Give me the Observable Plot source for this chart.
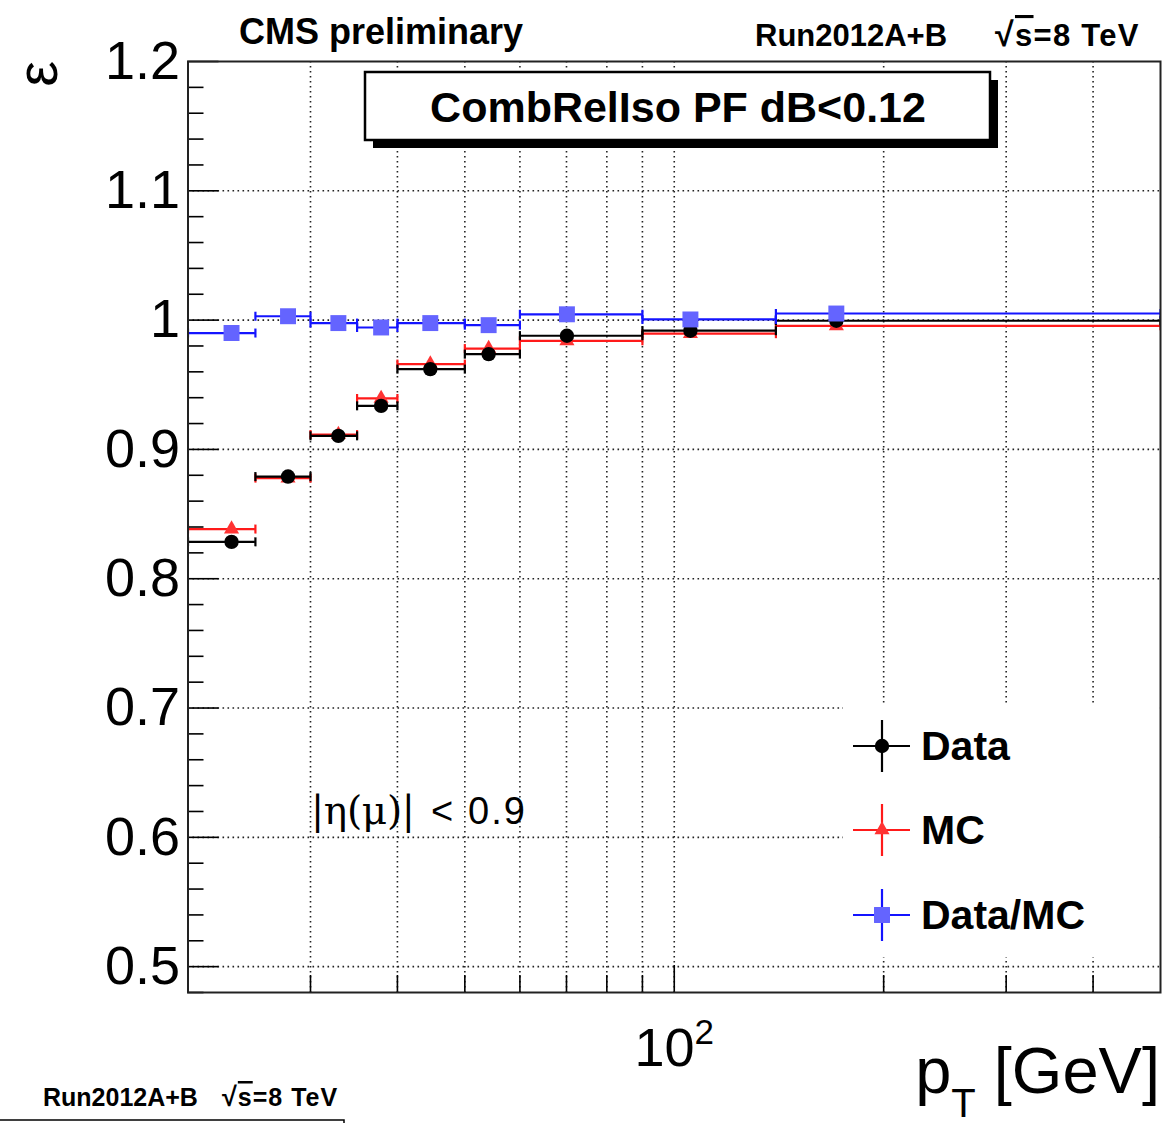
<!DOCTYPE html>
<html><head><meta charset="utf-8">
<script src="https://cdn.jsdelivr.net/npm/d3@7"></script>
<script src="https://cdn.jsdelivr.net/npm/@observablehq/plot@0.6"></script>
<style>
html,body{margin:0;padding:0;background:#fff}
svg{display:block}
</style>
</head><body><div id="chart"></div>
<script>
// ---- data ----
const binLow  = [20, 25, 30, 35, 40, 50, 60, 90, 140];
const binHigh = [25, 30, 35, 40, 50, 60, 90, 140, 500];
const ptMean  = [23.1, 27.85, 32.9, 37.9, 44.6, 54.1, 70.1, 105.5, 171];
const effData = [0.8285, 0.879, 0.9105, 0.9337, 0.9621, 0.9737, 0.9879, 0.9918, 0.9995];
const effMC   = [0.8384, 0.8778, 0.9115, 0.9394, 0.9660, 0.9780, 0.9840, 0.9895, 0.9956];
const ratio   = [0.9900, 1.0030, 0.9977, 0.9943, 0.9977, 0.9961, 1.0045, 1.0005, 1.0051];
const seriesNames = ["Data", "MC", "Data/MC"];

const xGrid  = [30, 40, 50, 60, 70, 80, 90, 100, 200, 300, 400];
const xMinor = [30, 40, 50, 60, 70, 80, 90, 200, 300, 400];
const xMajor = [100];
const yMajor = [0.5, 0.6, 0.7, 0.8, 0.9, 1.0, 1.1, 1.2];
const yGrid  = [0.5, 0.6, 0.7, 0.8, 0.9, 1.0, 1.1];
const yMinor = d3.range(24, 61).map(i => i / 50).filter(v => !yMajor.some(m => Math.abs(m - v) < 1e-9));

// ---- layout ----
const W = 1165, H = 1123;
const frameL = 187.5, frameR = 1160, frameT = 61, frameB = 992;
const FONT = "'Liberation Sans', Arial, Helvetica, sans-serif";

const styles = {
  "Data":    {line: "#000000", fill: "#000000", symbol: "circle",   r: 7.2},
  "MC":      {line: "#ff1a1a", fill: "#ff3333", symbol: "triangle", r: 5.6},
  "Data/MC": {line: "#1414ff", fill: "#6464ff", symbol: "square",   r: 9}
};
const values = {"Data": effData, "MC": effMC, "Data/MC": ratio};

function rowsFor(name) {
  return binLow.map((lo, i) => ({series: name, lo, hi: binHigh[i], x: ptMean[i], v: values[name][i]}));
}

const capSymbol = {draw(ctx) { ctx.moveTo(0, -4.5); ctx.lineTo(0, 4.5); }};

const drawOrder = ["MC", "Data", "Data/MC"];
const dataMarks = drawOrder.flatMap(name => {
  const rows = rowsFor(name), s = styles[name];
  return [
    Plot.ruleY(rows, {y: "v", x1: "lo", x2: "hi", stroke: s.line, strokeWidth: 2.2, clip: true}),
    Plot.dot(rows, {x: "lo", y: "v", symbol: capSymbol, stroke: s.line, strokeWidth: 2.2, fill: "none", clip: true}),
    Plot.dot(rows, {x: "hi", y: "v", symbol: capSymbol, stroke: s.line, strokeWidth: 2.2, fill: "none", clip: true}),
    Plot.dot(rows, {x: "x", y: "v", symbol: s.symbol, r: s.r, fill: s.fill, stroke: "none", clip: true})
  ];
});

const gridStyle = {stroke: "#222", strokeWidth: 1.6, strokeDasharray: "1.6,3.4"};

const chart = Plot.plot({
  width: W, height: H,
  marginLeft: frameL, marginRight: W - frameR, marginTop: frameT, marginBottom: H - frameB,
  x: {type: "log", domain: [20, 500], label: null, axis: null},
  y: {domain: [0.48, 1.2], label: null, axis: null},
  style: {fontFamily: FONT, background: "#fff", color: "#000", overflow: "visible"},
  marks: [
    Plot.ruleX(xGrid, {x: d => d, ...gridStyle}),
    Plot.ruleY(yGrid, {y: d => d, ...gridStyle}),
    ...dataMarks,
    Plot.axisY({ticks: yMinor, tickSize: -16, tickFormat: () => "", strokeWidth: 1.6, label: null}),
    Plot.axisY({ticks: yMajor, tickSize: -31, tickPadding: 39, strokeWidth: 1.6, label: null,
      tickFormat: d => (Math.abs(d - 1) < 1e-9 ? "1" : d.toFixed(1)), fontSize: 54}),
    Plot.axisX({ticks: xMinor, tickSize: -17, tickFormat: () => "", strokeWidth: 1.6, label: null}),
    Plot.axisX({ticks: xMajor, tickSize: -27, tickPadding: 62, strokeWidth: 1.6, label: null,
      tickFormat: () => "10\u00B2", fontSize: 54}),
    Plot.frame({stroke: "#222", strokeWidth: 2})
  ]
});
document.getElementById("chart").appendChild(chart);

// ---- annotations ----
const svg = d3.select(chart);
const ann = svg.append("g").attr("text-anchor", "start").style("font-family", FONT);

// legend background box hides the grid behind it (inserted right after the two grid rule groups)
const ruleGroups = chart.querySelectorAll("g[aria-label='rule']");
const bg = document.createElementNS("http://www.w3.org/2000/svg", "rect");
bg.setAttribute("x", 843); bg.setAttribute("y", 703);
bg.setAttribute("width", frameR - 1 - 843); bg.setAttribute("height", 254);
bg.setAttribute("fill", "#fff");
if (ruleGroups.length >= 2) {
  ruleGroups[1].parentNode.insertBefore(bg, ruleGroups[1].nextSibling);
}

// superscript exponent on the 10^2 tick label
svg.selectAll("text").filter(function() { return this.textContent === "10\u00B2"; }).each(function() {
  const t = d3.select(this);
  t.text(null);
  t.append("tspan").text("10");
  t.append("tspan").attr("dy", -22).style("font-size", "35px").text("2");
});

// legend entries
const legY = [746, 830, 915];
const symMap = {circle: d3.symbolCircle, triangle: d3.symbolTriangle, square: d3.symbolSquare};
seriesNames.forEach((name, i) => {
  const s = styles[name], y = legY[i];
  const g = ann.append("g");
  g.append("line").attr("x1", 853).attr("x2", 910).attr("y1", y).attr("y2", y).attr("stroke", s.line).attr("stroke-width", 2.2);
  g.append("line").attr("x1", 882).attr("x2", 882).attr("y1", y - 26).attr("y2", y + 26).attr("stroke", s.line).attr("stroke-width", 2.2);
  g.append("path").attr("transform", `translate(882,${y})`)
    .attr("d", d3.symbol(symMap[s.symbol], Math.PI * s.r * s.r)()).attr("fill", s.fill);
  g.append("text").attr("x", 921).attr("y", y + 14).style("font-size", "41px").style("font-weight", "bold").text(name);
});

// title box with shadow
ann.append("rect").attr("x", 373).attr("y", 80).attr("width", 625).attr("height", 68).attr("fill", "#000");
ann.append("rect").attr("x", 365).attr("y", 72).attr("width", 625).attr("height", 68)
  .attr("fill", "#fff").attr("stroke", "#000").attr("stroke-width", 2.5);
ann.append("text").attr("x", 678).attr("y", 122).attr("text-anchor", "middle")
  .style("font-size", "43px").style("font-weight", "bold").text("CombRelIso PF dB<0.12");

// header texts
ann.append("text").attr("x", 239).attr("y", 44).style("font-size", "36px").style("font-weight", "bold").text("CMS preliminary");
ann.append("text").attr("x", 755).attr("y", 46).style("font-size", "31px").style("font-weight", "bold").text("Run2012A+B");
const rs = ann.append("text").attr("x", 995).attr("y", 46).style("font-size", "31px").style("font-weight", "bold")
  .style("letter-spacing", "1.3px");
rs.append("tspan").style("font-size", "34px").text("\u221A");
rs.append("tspan").style("text-decoration", "overline").text("s");
rs.append("tspan").text("=8 TeV");

// y title (epsilon), rotated
ann.append("text").attr("transform", "translate(57,61) rotate(-90)").attr("text-anchor", "end")
  .style("font-size", "58px").text("\u03B5");

// x title
const pt = ann.append("text").attr("x", 1160).attr("y", 1093).attr("text-anchor", "end").style("font-size", "65px");
pt.append("tspan").text("p");
pt.append("tspan").attr("dy", 24).style("font-size", "40px").text("T");
pt.append("tspan").attr("dy", -24).text(" [GeV]");

// eta region label
ann.append("text").attr("x", 311).attr("y", 824).style("font-size", "39px")
  .style("font-family", "'DejaVu Serif', 'Liberation Serif', serif")
  .attr("textLength", 104).attr("lengthAdjust", "spacing").text("|\u03B7(\u03BC)|");
ann.append("text").attr("x", 431).attr("y", 824).style("font-size", "38px")
  .attr("textLength", 94).attr("lengthAdjust", "spacing").text("< 0.9");

// bottom-left remnant of the next panel
ann.append("text").attr("x", 43).attr("y", 1106).style("font-size", "25px").style("font-weight", "bold").text("Run2012A+B");
const rs2 = ann.append("text").attr("x", 222).attr("y", 1106).style("font-size", "25px").style("font-weight", "bold")
  .style("letter-spacing", "1px");
rs2.append("tspan").style("font-size", "27px").text("\u221A");
rs2.append("tspan").style("text-decoration", "overline").text("s");
rs2.append("tspan").text("=8 TeV");
ann.append("path").attr("d", "M0,1120H344V1124").attr("fill", "none").attr("stroke", "#000").attr("stroke-width", 1.5);
</script>
</body></html>
